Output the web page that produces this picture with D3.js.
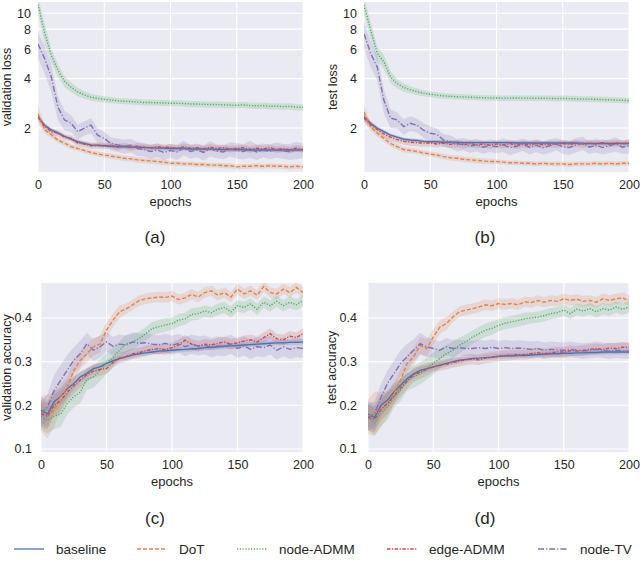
<!DOCTYPE html>
<html>
<head>
<meta charset="utf-8">
<script src="https://cdn.jsdelivr.net/npm/d3@7"></script>
<style>
  body { margin: 0; background: #fff; }
  text { font-family: "Liberation Sans", Arial, sans-serif; fill: #262626; }
</style>
</head>
<body>
<svg id="chart" width="640" height="572"></svg>
<script>
// series
var names = ["baseline", "DoT", "node-ADMM", "edge-ADMM", "node-TV"];
var colors = ["#4c72b0", "#dd8452", "#55a868", "#c44e52", "#8172b3"];
var dashes = ["none", "4,2", "1.2,1.6", "3.5,1.5,1.2,1.5", "6,2,1.2,2"];

var epochs = [0,5,10,15,20,25,30,35,40,45,50,55,60,65,70,75,80,85,90,95,
  100,105,110,115,120,125,130,135,140,145,150,155,160,165,170,175,180,185,190,195,200];
var epochTicks = [0, 50, 100, 150, 200];
var lossTicks = [2, 4, 6, 8, 10];
var accTicks = [0.1, 0.2, 0.3, 0.4];

// (a) validation loss
var valLossBaseline = [2.34,2.08,1.95,1.87,1.78,1.71,1.65,1.61,1.58,1.57,
  1.56,1.55,1.54,1.54,1.53,1.53,1.52,1.52,1.51,1.51,
  1.50,1.50,1.50,1.49,1.49,1.49,1.49,1.48,1.48,1.48,
  1.48,1.48,1.47,1.47,1.47,1.47,1.47,1.47,1.47,1.47,1.47];
var valLossDot = [2.45,1.95,1.82,1.69,1.62,1.54,1.50,1.46,1.42,1.39,
  1.37,1.35,1.33,1.31,1.30,1.28,1.27,1.26,1.25,1.24,
  1.22,1.22,1.21,1.21,1.20,1.20,1.19,1.19,1.18,1.18,
  1.16,1.17,1.17,1.18,1.17,1.18,1.17,1.17,1.16,1.17,1.16];
var valLossNodeAdmm = [11.3,7.6,5.56,4.5,3.85,3.55,3.32,3.18,3.08,3.03,
  2.99,2.96,2.93,2.91,2.90,2.88,2.86,2.86,2.85,2.84,
  2.83,2.83,2.82,2.80,2.80,2.79,2.78,2.78,2.77,2.76,
  2.75,2.77,2.74,2.73,2.74,2.71,2.72,2.70,2.71,2.68,2.67];
var valLossEdgeAdmm = [2.34,2.05,1.90,1.86,1.76,1.73,1.62,1.60,1.56,1.57,
  1.55,1.57,1.53,1.56,1.52,1.55,1.53,1.51,1.54,1.52,
  1.53,1.50,1.54,1.51,1.52,1.49,1.53,1.50,1.52,1.49,
  1.50,1.52,1.48,1.51,1.49,1.52,1.48,1.50,1.47,1.51,1.48];
var valLossNodeTv = [6.5,5.3,4.1,2.69,2.24,2.14,1.90,2.00,2.08,1.81,
  1.73,1.61,1.58,1.55,1.57,1.50,1.48,1.44,1.47,1.42,
  1.46,1.43,1.52,1.44,1.47,1.42,1.50,1.45,1.43,1.49,
  1.46,1.44,1.50,1.43,1.47,1.44,1.48,1.45,1.44,1.47,1.46];
var valLossBaselineSd = [.10,.06,.05,.05,.04,.04,.04,.04,.04,.04,
  .04,.04,.04,.04,.04,.04,.04,.04,.04,.04,
  .04,.04,.04,.04,.04,.04,.04,.04,.04,.04,
  .04,.04,.04,.04,.04,.04,.04,.04,.04,.04,.04];
var valLossDotSd = [.30,.10,.08,.07,.06,.06,.05,.05,.05,.05,
  .05,.05,.05,.05,.05,.05,.05,.05,.05,.05,
  .04,.04,.04,.04,.04,.04,.04,.04,.04,.04,
  .04,.04,.04,.04,.04,.04,.04,.04,.04,.04,.04];
var valLossNodeAdmmSd = [1.2,1.1,.55,.4,.3,.25,.2,.17,.15,.14,
  .13,.13,.12,.12,.12,.12,.12,.12,.12,.12,
  .12,.12,.12,.12,.12,.12,.12,.12,.12,.12,
  .12,.12,.12,.12,.12,.12,.12,.12,.12,.12,.12];
var valLossEdgeAdmmSd = [.12,.09,.08,.08,.07,.07,.07,.07,.07,.07,
  .07,.07,.07,.07,.07,.07,.07,.07,.07,.07,
  .07,.07,.07,.07,.07,.07,.07,.07,.07,.07,
  .07,.07,.07,.07,.07,.07,.07,.07,.07,.07,.07];
var valLossNodeTvSd = [1.2,1.0,.8,.45,.3,.25,.2,.2,.22,.18,
  .16,.15,.15,.15,.15,.15,.14,.14,.14,.14,
  .14,.15,.16,.14,.14,.15,.16,.14,.14,.15,
  .16,.15,.18,.15,.14,.15,.16,.15,.16,.18,.15];

// (b) test loss
var testLossBaseline = [2.34,2.14,1.99,1.90,1.81,1.76,1.71,1.69,1.68,1.66,
  1.65,1.65,1.64,1.64,1.64,1.63,1.63,1.63,1.63,1.63,
  1.63,1.63,1.63,1.62,1.62,1.62,1.62,1.62,1.62,1.62,
  1.62,1.62,1.62,1.61,1.61,1.61,1.61,1.61,1.61,1.61,1.61];
var testLossDot = [2.5,2.04,1.86,1.73,1.61,1.54,1.48,1.46,1.44,1.41,
  1.39,1.37,1.34,1.32,1.31,1.29,1.28,1.27,1.26,1.25,
  1.25,1.24,1.23,1.23,1.22,1.22,1.21,1.22,1.21,1.21,
  1.21,1.20,1.21,1.21,1.21,1.22,1.21,1.22,1.21,1.22,1.22];
var testLossNodeAdmm = [11.2,7.9,5.7,5.06,4.1,3.73,3.53,3.42,3.33,3.26,
  3.21,3.17,3.14,3.12,3.10,3.09,3.08,3.07,3.06,3.05,
  3.05,3.04,3.04,3.05,3.04,3.04,3.03,3.04,3.03,3.02,
  3.03,3.02,3.01,3.00,3.00,2.99,2.98,2.97,2.96,2.95,2.93];
var testLossEdgeAdmm = [2.30,2.10,1.96,1.84,1.76,1.70,1.66,1.64,1.63,1.62,
  1.62,1.60,1.62,1.59,1.61,1.58,1.61,1.58,1.60,1.57,
  1.60,1.58,1.61,1.57,1.60,1.58,1.61,1.58,1.60,1.59,
  1.61,1.59,1.62,1.59,1.62,1.60,1.63,1.60,1.62,1.61,1.62];
var testLossNodeTv = [7.5,5.7,4.7,2.96,2.3,2.24,2.04,2.14,2.08,1.94,
  1.86,1.83,1.69,1.66,1.58,1.60,1.55,1.58,1.53,1.57,
  1.54,1.58,1.52,1.55,1.59,1.53,1.57,1.52,1.56,1.60,
  1.54,1.52,1.58,1.62,1.53,1.57,1.52,1.56,1.60,1.53,1.56];
var testLossBaselineSd = valLossBaselineSd;
var testLossDotSd = [.30,.12,.09,.08,.07,.06,.06,.05,.05,.05,
  .05,.05,.05,.05,.05,.05,.05,.05,.05,.05,
  .04,.04,.04,.04,.04,.04,.04,.04,.04,.04,
  .04,.04,.04,.04,.04,.04,.04,.04,.04,.04,.04];
var testLossNodeAdmmSd = [1.2,1.0,.6,.5,.35,.25,.2,.17,.15,.14,
  .13,.13,.12,.12,.12,.12,.12,.12,.12,.12,
  .12,.12,.12,.12,.12,.12,.12,.12,.12,.12,
  .12,.12,.12,.12,.12,.12,.12,.12,.12,.12,.12];
var testLossEdgeAdmmSd = [.14,.10,.09,.09,.08,.08,.08,.08,.08,.08,
  .08,.08,.08,.08,.08,.08,.08,.08,.08,.08,
  .08,.08,.08,.08,.08,.08,.08,.08,.08,.08,
  .08,.08,.08,.08,.08,.08,.08,.08,.08,.08,.08];
var testLossNodeTvSd = [1.4,1.0,.8,.5,.3,.25,.22,.22,.2,.2,
  .18,.16,.15,.15,.14,.14,.14,.14,.14,.14,
  .14,.15,.16,.14,.14,.15,.14,.14,.15,.14,
  .15,.15,.16,.15,.14,.15,.14,.15,.16,.14,.16];

// (c) validation accuracy
var valAccBaseline = [0.189,0.180,0.208,0.220,0.238,0.250,0.265,0.273,0.284,0.288,
  0.296,0.302,0.307,0.311,0.315,0.318,0.320,0.322,0.324,0.325,
  0.326,0.327,0.328,0.329,0.330,0.332,0.333,0.334,0.335,0.336,
  0.337,0.338,0.339,0.340,0.341,0.342,0.343,0.343,0.344,0.344,0.345];
var valAccDot = [0.181,0.174,0.190,0.220,0.240,0.280,0.303,0.318,0.334,0.340,
  0.372,0.395,0.414,0.421,0.430,0.440,0.444,0.446,0.448,0.447,
  0.450,0.442,0.446,0.454,0.448,0.458,0.462,0.452,0.458,0.448,
  0.466,0.455,0.462,0.452,0.472,0.458,0.455,0.466,0.458,0.470,0.458];
var valAccNodeAdmm = [0.174,0.166,0.175,0.180,0.204,0.220,0.230,0.260,0.265,0.280,
  0.296,0.310,0.326,0.341,0.345,0.353,0.364,0.376,0.380,0.384,
  0.387,0.395,0.398,0.408,0.410,0.416,0.412,0.420,0.424,0.414,
  0.428,0.424,0.432,0.420,0.436,0.428,0.438,0.428,0.436,0.430,0.440];
var valAccEdgeAdmm = [0.180,0.175,0.200,0.210,0.230,0.245,0.258,0.270,0.278,0.282,
  0.284,0.298,0.308,0.312,0.318,0.320,0.325,0.328,0.330,0.327,
  0.332,0.338,0.349,0.340,0.335,0.340,0.338,0.342,0.345,0.340,
  0.343,0.347,0.350,0.345,0.355,0.364,0.352,0.350,0.358,0.355,0.364];
var valAccNodeTv = [0.180,0.196,0.234,0.257,0.280,0.303,0.318,0.341,0.326,0.334,
  0.345,0.335,0.340,0.338,0.345,0.342,0.343,0.340,0.338,0.342,
  0.337,0.342,0.334,0.340,0.336,0.338,0.332,0.336,0.334,0.340,
  0.330,0.336,0.328,0.334,0.332,0.338,0.326,0.334,0.328,0.332,0.330];
var valAccBaselineSd = [.03,.03,.025,.02,.02,.015,.012,.01,.01,.008,
  .008,.008,.007,.007,.007,.006,.006,.006,.006,.006,
  .006,.006,.006,.006,.006,.006,.006,.006,.006,.006,
  .006,.006,.006,.006,.006,.006,.006,.006,.006,.006,.006];
var valAccDotSd = [.04,.05,.04,.03,.025,.025,.02,.02,.02,.02,
  .018,.015,.015,.012,.012,.012,.012,.012,.012,.012,
  .012,.012,.012,.012,.012,.012,.012,.012,.012,.012,
  .012,.012,.012,.012,.012,.012,.012,.012,.012,.012,.012];
var valAccNodeAdmmSd = [.03,.03,.03,.03,.025,.025,.025,.025,.025,.025,
  .025,.022,.02,.02,.018,.016,.015,.015,.015,.015,
  .014,.014,.014,.014,.014,.013,.013,.013,.013,.013,
  .013,.013,.013,.013,.013,.013,.013,.013,.013,.013,.013];
var valAccEdgeAdmmSd = [.03,.03,.025,.025,.02,.02,.018,.016,.015,.015,
  .012,.012,.012,.012,.012,.012,.012,.012,.012,.012,
  .012,.012,.012,.012,.012,.012,.012,.012,.012,.012,
  .012,.012,.012,.012,.012,.012,.012,.012,.012,.012,.012];
var valAccNodeTvSd = [.03,.03,.035,.035,.035,.03,.03,.025,.025,.025,
  .022,.022,.022,.022,.022,.022,.022,.022,.022,.022,
  .022,.022,.022,.022,.022,.022,.022,.022,.022,.022,
  .022,.022,.022,.022,.022,.022,.022,.022,.022,.022,.022];

// (d) test accuracy
var testAccBaseline = [0.180,0.172,0.200,0.212,0.231,0.246,0.261,0.272,0.280,0.284,
  0.288,0.292,0.296,0.300,0.303,0.305,0.307,0.308,0.309,0.310,
  0.312,0.313,0.313,0.314,0.314,0.315,0.316,0.317,0.318,0.318,
  0.319,0.319,0.320,0.320,0.321,0.321,0.322,0.322,0.322,0.322,0.322];
var testAccDot = [0.174,0.181,0.190,0.204,0.227,0.258,0.296,0.311,0.337,0.330,
  0.356,0.379,0.387,0.402,0.414,0.418,0.421,0.425,0.430,0.428,
  0.433,0.431,0.433,0.430,0.437,0.435,0.440,0.436,0.440,0.438,
  0.444,0.440,0.443,0.438,0.440,0.436,0.444,0.440,0.444,0.446,0.440];
var testAccNodeAdmm = [0.174,0.160,0.182,0.197,0.220,0.235,0.258,0.265,0.273,0.284,
  0.296,0.307,0.318,0.326,0.337,0.346,0.356,0.364,0.372,0.376,
  0.383,0.388,0.391,0.394,0.398,0.400,0.402,0.405,0.410,0.412,
  0.418,0.410,0.420,0.416,0.421,0.414,0.421,0.418,0.425,0.420,0.425];
var testAccEdgeAdmm = [0.172,0.168,0.190,0.205,0.222,0.240,0.255,0.270,0.276,0.282,
  0.288,0.291,0.294,0.298,0.301,0.304,0.306,0.304,0.308,0.310,
  0.312,0.314,0.315,0.316,0.316,0.318,0.320,0.318,0.320,0.322,
  0.322,0.325,0.324,0.326,0.328,0.330,0.328,0.331,0.330,0.333,0.332];
var testAccNodeTv = [0.172,0.180,0.219,0.250,0.273,0.296,0.311,0.326,0.341,0.334,
  0.330,0.326,0.334,0.330,0.332,0.330,0.330,0.332,0.330,0.333,
  0.330,0.332,0.330,0.331,0.330,0.328,0.330,0.326,0.328,0.327,
  0.326,0.328,0.326,0.324,0.326,0.328,0.326,0.324,0.326,0.325,0.324];
var testAccBaselineSd = valAccBaselineSd;
var testAccDotSd = valAccDotSd;
var testAccNodeAdmmSd = valAccNodeAdmmSd;
var testAccEdgeAdmmSd = valAccEdgeAdmmSd;
var testAccNodeTvSd = [.03,.03,.03,.03,.03,.03,.03,.025,.025,.022,
  .02,.02,.02,.02,.018,.018,.018,.018,.018,.018,
  .018,.018,.018,.018,.018,.018,.018,.018,.018,.018,
  .018,.018,.018,.018,.018,.018,.018,.018,.018,.018,.018];

var svg = d3.select("#chart");

function drawPanel(p) {
  var g = svg.append("g");
  var w = p.right - p.left, h = p.bottom - p.top;

  var x = d3.scaleLinear().domain([0, 200]).range([p.left, p.right]);
  var y = (p.log ? d3.scaleLog() : d3.scaleLinear())
    .domain(p.domain).range([p.bottom, p.top]);

  g.append("rect")
    .attr("x", p.left).attr("y", p.top)
    .attr("width", w).attr("height", h)
    .attr("fill", "#eaeaf2");

  // grid
  g.selectAll(".gx").data(epochTicks).join("line")
    .attr("x1", d => x(d)).attr("x2", d => x(d))
    .attr("y1", p.top).attr("y2", p.bottom)
    .attr("stroke", "#fff").attr("stroke-width", 1.1);
  g.selectAll(".gy").data(p.ticks).join("line")
    .attr("x1", p.left).attr("x2", p.right)
    .attr("y1", d => y(d)).attr("y2", d => y(d))
    .attr("stroke", "#fff").attr("stroke-width", 1.1);

  var clipId = "clip" + p.id;
  g.append("clipPath").attr("id", clipId)
    .append("rect")
    .attr("x", p.left).attr("y", p.top)
    .attr("width", w).attr("height", h);

  var plot = g.append("g").attr("clip-path", "url(#" + clipId + ")");

  p.series.forEach(function (vals, i) {
    var sd = p.sds[i];
    var pts = epochs.map((e, k) => ({ e: e, v: vals[k], s: sd[k] }));
    var area = d3.area()
      .x(d => x(d.e))
      .y0(d => y(Math.max(d.v - d.s, p.domain[0] * 0.9)))
      .y1(d => y(d.v + d.s));
    plot.append("path")
      .datum(pts)
      .attr("d", area)
      .attr("fill", colors[i])
      .attr("fill-opacity", 0.2);
  });

  p.series.forEach(function (vals, i) {
    var line = d3.line().x((d, k) => x(epochs[k])).y(d => y(d));
    plot.append("path")
      .datum(vals)
      .attr("d", line)
      .attr("fill", "none")
      .attr("stroke", colors[i])
      .attr("stroke-width", 1.4)
      .attr("stroke-dasharray", dashes[i]);
  });

  var ax = g.append("g")
    .attr("transform", "translate(0," + p.bottom + ")")
    .call(d3.axisBottom(x).tickValues(epochTicks).tickFormat(d3.format("d"))
      .tickSize(0).tickPadding(8));
  ax.select(".domain").remove();
  ax.selectAll("text").attr("font-size", 12.5);

  var ay = g.append("g")
    .attr("transform", "translate(" + p.left + ",0)")
    .call(d3.axisLeft(y).tickValues(p.ticks).tickFormat(p.fmt)
      .tickSize(0).tickPadding(p.pad));
  ay.select(".domain").remove();
  ay.selectAll("text").attr("font-size", 12.5);

  g.append("text")
    .attr("x", (p.left + p.right) / 2).attr("y", p.bottom + 34)
    .attr("text-anchor", "middle").attr("font-size", 13)
    .text("epochs");

  g.append("text")
    .attr("transform", "translate(" + p.ylx + "," + (p.top + p.bottom) / 2 + ") rotate(-90)")
    .attr("text-anchor", "middle").attr("font-size", 12.5)
    .text(p.ylabel);

  g.append("text")
    .attr("x", p.capX).attr("y", p.capY)
    .attr("text-anchor", "middle").attr("font-size", 17)
    .text(p.caption);
}

drawPanel({
  id: "a", left: 38, right: 303, top: 2, bottom: 172, log: true,
  domain: [1.08, 11.7], ticks: lossTicks, fmt: d3.format("d"), pad: 7,
  ylabel: "validation loss", ylx: 11, caption: "(a)", capX: 155, capY: 243,
  series: [valLossBaseline, valLossDot, valLossNodeAdmm, valLossEdgeAdmm, valLossNodeTv],
  sds: [valLossBaselineSd, valLossDotSd, valLossNodeAdmmSd, valLossEdgeAdmmSd, valLossNodeTvSd]
});
drawPanel({
  id: "b", left: 364, right: 629, top: 2, bottom: 172, log: true,
  domain: [1.08, 11.7], ticks: lossTicks, fmt: d3.format("d"), pad: 7,
  ylabel: "test loss", ylx: 337, caption: "(b)", capX: 485, capY: 243,
  series: [testLossBaseline, testLossDot, testLossNodeAdmm, testLossEdgeAdmm, testLossNodeTv],
  sds: [testLossBaselineSd, testLossDotSd, testLossNodeAdmmSd, testLossEdgeAdmmSd, testLossNodeTvSd]
});
drawPanel({
  id: "c", left: 41, right: 303, top: 283, bottom: 452, log: false,
  domain: [0.093, 0.48], ticks: accTicks, fmt: d3.format(".1f"), pad: 9,
  ylabel: "validation accuracy", ylx: 11, caption: "(c)", capX: 155, capY: 524,
  series: [valAccBaseline, valAccDot, valAccNodeAdmm, valAccEdgeAdmm, valAccNodeTv],
  sds: [valAccBaselineSd, valAccDotSd, valAccNodeAdmmSd, valAccEdgeAdmmSd, valAccNodeTvSd]
});
drawPanel({
  id: "d", left: 368, right: 629, top: 283, bottom: 452, log: false,
  domain: [0.093, 0.48], ticks: accTicks, fmt: d3.format(".1f"), pad: 11,
  ylabel: "test accuracy", ylx: 336, caption: "(d)", capX: 485, capY: 524,
  series: [testAccBaseline, testAccDot, testAccNodeAdmm, testAccEdgeAdmm, testAccNodeTv],
  sds: [testAccBaselineSd, testAccDotSd, testAccNodeAdmmSd, testAccEdgeAdmmSd, testAccNodeTvSd]
});

// legend
var legendX = [14, 137, 237, 387, 538];
var legend = svg.append("g").selectAll("g").data(names).join("g")
  .attr("transform", (d, i) => "translate(" + legendX[i] + ",549)");
legend.append("line")
  .attr("x1", 0).attr("x2", 30).attr("y1", 0).attr("y2", 0)
  .attr("stroke", (d, i) => colors[i])
  .attr("stroke-width", 1.3)
  .attr("stroke-dasharray", (d, i) => dashes[i]);
legend.append("text")
  .attr("x", 42).attr("y", 5)
  .attr("font-size", 13.5)
  .text(d => d);
</script>
</body>
</html>
